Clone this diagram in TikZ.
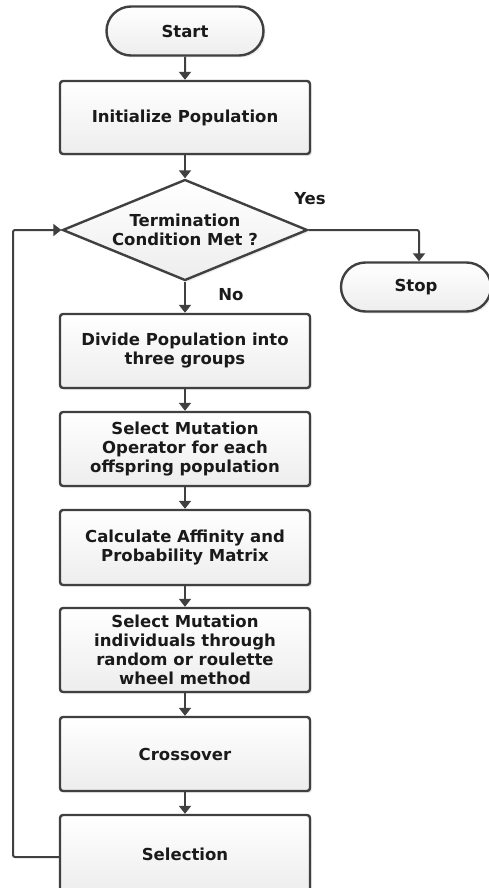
\documentclass[tikz,border=0pt]{standalone}
\usepackage{fontspec}
\setmainfont{DejaVu Sans}
\usetikzlibrary{shapes.geometric,shapes.misc,arrows.meta,shadows}
\definecolor{linegray}{HTML}{404040}
\definecolor{textgray}{HTML}{1A1A1A}
\tikzset{
  base/.style={draw=linegray, line width=2.4pt, top color=white, bottom color=gray!14,
    drop shadow={shadow xshift=2pt, shadow yshift=-2pt, fill=gray!40, opacity=0.35},
    font=\bfseries\fontsize{16.5}{19}\selectfont, text=textgray, align=center, inner sep=0pt},
  term/.style={base, rounded rectangle, minimum height=49pt},
  proc/.style={base, rectangle, rounded corners=3pt, minimum width=250pt},
  decision/.style={base, diamond, aspect=2.43, minimum width=245pt, minimum height=101pt},
  lbl/.style={font=\bfseries\fontsize{16.5}{19}\selectfont, text=textgray, inner sep=0pt},
  flow/.style={draw=linegray, line width=2pt, -{Triangle[width=12pt,length=8pt]}},
}
\begin{document}
\begin{tikzpicture}[x=1pt,y=-1pt]
\useasboundingbox (0,0) rectangle (488,888);
\node[term, minimum width=157pt] (start) at (185,31) {Start};
\node[proc, minimum height=73pt] (init) at (185,117.5) {Initialize Population};
\node[decision] (cond) at (185,230) {Termination\\Condition Met ?};
\node[term, minimum width=150pt] (stop) at (416,287) {Stop};
\node[proc, minimum height=74pt] (div) at (185,351) {Divide Population into\\three groups};
\node[proc, minimum height=74pt] (oper) at (185,449) {Select Mutation\\Operator for each\\offspring population};
\node[proc, minimum height=75pt] (calc) at (185,547.5) {Calculate Affinity and\\Probability Matrix};
\node[proc, minimum height=84pt] (indiv) at (185,650) {Select Mutation\\individuals through\\random or roulette\\wheel method};
\node[proc, minimum height=74pt] (cross) at (185,754) {Crossover};
\node[proc, minimum height=78pt] (sel) at (185,854) {Selection};
\node[lbl] (yes) at (310,199) {Yes};
\node[lbl] (no) at (231,295) {No};
\coordinate (loop) at (13,230);
\coordinate (turn) at (419,230);
\draw[flow, rounded corners=2pt] (cond.east) -- (turn) -- (turn |- stop.north);
\draw[flow] (start) -- (init);
\draw[flow] (init) -- (cond);
\draw[flow] (cond) -- (div);
\draw[flow] (div) -- (oper);
\draw[flow] (oper) -- (calc);
\draw[flow] (calc) -- (indiv);
\draw[flow] (indiv) -- (cross);
\draw[flow] (cross) -- (sel);
\draw[flow, rounded corners=2pt] ([yshift=-3pt]sel.west) -| (loop) -- (cond.west);
\end{tikzpicture}
\end{document}
